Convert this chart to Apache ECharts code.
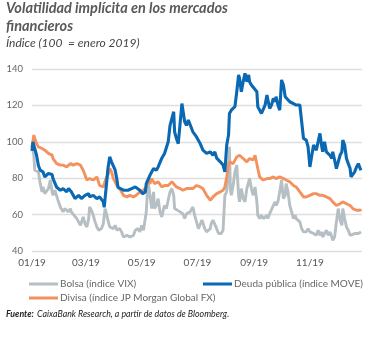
<!DOCTYPE html>
<html><head><meta charset="utf-8">
<script src="https://cdn.jsdelivr.net/npm/echarts@6/dist/echarts.min.js"></script>
<style>html,body{margin:0;padding:0;background:#fff}#c{width:379px;height:338px}</style>
</head><body><div id="c"></div>
<script>
// x values = days since 1 January 2019
const tickDays = [0, 59, 120, 181, 243, 304];
const tickLabels = ['01/19', '03/19', '05/19', '07/19', '09/19', '11/19'];
const yTicks = [40, 60, 80, 100, 120, 140];

const seriesNames = ['Bolsa (índice VIX)', 'Deuda pública (índice MOVE)', 'Divisa (índice JP Morgan Global FX)'];

const vixDays = [0,2,3,5,7,9,11,12,14,16,18,20,22,23,25,27,29,31,32,34,36,38,40,42,43,45,49,51,53,54,56,58,60,62,63,65,67,69,71,73,74,76,78,80,82,83,85,89,91,93,96,98,100,102,104,107,111,113,114,116,118,120,122,124,125,127,129,131,133,134,136,138,140,142,144,145,147,149,151,153,155,156,158,162,165,167,169,173,176,178,182,184,186,187,189,191,193,195,196,198,200,202,204,207,209,211,213,215,216,217,218,220,222,224,226,227,229,231,233,235,237,238,240,242,244,246,247,249,251,253,255,257,258,260,262,264,266,267,269,271,273,275,277,278,280,282,284,286,288,289,293,295,297,300,302,304,306,308,311,313,315,317,318,320,322,324,326,328,329,331,333,335,337,339,340,342,344,346,348,349,353,357,360];
const vixValues = [98,92.6,84.4,85.3,83.5,77,72.5,75.2,71.5,70.6,74.3,79,72.5,70.6,73.4,74.3,67,64.2,63.3,61.5,63.3,62.4,61.5,63.3,61.5,62.4,57.8,56,54.1,55,58.7,55,53.2,57.8,64.2,62.4,59.6,56,53.2,51.4,51.4,52.3,55,63.3,59.6,56.9,53.2,52.3,54.1,51.4,52.3,50.5,47.7,47.7,48.6,47.7,48.6,51.4,50.5,52.3,50.5,54.1,51.4,50.5,61.5,79,70.6,63.3,72.5,63.3,65,68.8,61.5,58.7,63.3,65,63.3,68,72.5,74.3,70.6,63.3,63.3,61.5,60.5,57.8,60.5,61.5,64.2,59.6,52.3,53.2,57,56,52.3,50.5,51.4,52.3,55,57,56,52.3,49.6,49.6,51.4,70.6,72.5,87.2,97.3,74.3,70.6,76,83.5,87.2,70.6,67,74.3,68.8,67,74.3,78,79.8,74.3,70.6,75.2,67,59.6,57.8,59.6,57.8,58.7,59.6,57.8,60.5,61.5,65,67,65,67,72.5,79,68.8,70.6,77,72.5,65,61.5,57.8,59.6,57.8,56,52.3,50.5,50.5,52.3,50.5,51.4,49.6,48.6,51.4,48.6,50.5,47.7,48.6,51.4,48.6,50.5,47.7,45.9,47.7,56,63.3,57,54.1,63.3,57.8,53.2,51.4,48.6,49.6,49.6,49.6,50.5];

const moveDays = [0,1,3,5,7,9,12,14,18,22,23,27,31,34,38,40,43,47,51,54,58,62,63,67,71,74,78,79,81,83,85,87,89,91,93,94,96,100,102,105,109,113,114,118,121,124,125,129,131,133,136,138,142,144,145,149,151,153,155,156,158,160,162,164,165,167,169,171,173,176,180,184,187,191,195,198,200,202,206,209,211,213,215,216,218,220,222,224,226,227,229,231,233,235,237,238,240,242,246,247,249,251,255,257,258,260,262,264,266,267,269,271,273,275,277,278,282,286,289,291,293,295,297,300,302,304,306,308,309,311,313,315,317,318,320,322,324,326,328,329,331,333,335,337,339,340,342,344,346,348,349,351,353,355,357,359,360];
const moveValues = [95,100,99,92.6,87,84.4,83.5,80.7,82.6,82,79.8,75,73.4,74.3,72.5,74.3,72.5,68.8,70.6,68.8,70.6,71.5,69.7,70.6,68.8,69.7,67,64,74.3,85,91.7,89,88,84.4,79,75,74.3,73.4,72.5,73.4,74.3,75.2,74.3,73.4,71.5,72.5,77,81.6,80.7,85.3,84.4,86.2,91,91.7,93.6,100,109,109,116.5,105.5,101.8,99,100,121,121,111,109,112,112,105.5,102.7,99,95.4,93.6,94.5,92.6,94.5,91,89,87.2,83.5,98.2,103.7,115.6,117.4,118.3,119.3,127.5,136.7,134.9,127.5,133,137.6,133,136.7,133,131.2,132,127.5,119.3,120.2,115.6,120.2,125.7,125.7,118.3,120.2,123.9,122,124.8,120.2,117.4,134,131.2,124.8,124.8,122,121,120.2,119.3,120.2,111,101.8,100.9,97.3,86.2,87.2,98.2,99,95.4,94.5,104.6,97.3,94.5,100,94.5,95.4,92.6,90.8,94.5,90,85.3,85.3,92.6,94.5,100.9,98.2,90.8,88,85.3,80.7,81.6,83.5,86.2,88,85.3,84.4];

const fxDays = [0,2,3,5,7,11,14,18,22,23,27,31,34,38,42,45,49,53,56,60,63,67,71,74,78,81,83,85,87,89,93,96,100,104,107,111,114,118,122,125,127,129,131,134,138,142,145,149,153,155,158,162,165,169,173,176,180,184,187,191,195,198,202,206,209,211,213,215,216,220,224,227,231,235,238,242,244,246,247,249,253,257,260,264,267,271,275,278,282,286,289,293,297,300,304,308,311,315,318,322,326,329,333,337,340,344,348,351,355,359,360];
const fxValues = [97,103.7,101.8,99,97.2,96.3,95.4,93.6,92.7,90.8,88,87.2,87.2,86.2,88,87.2,88,87.2,84.4,79,79.8,79,80.7,76,75.2,79.8,81.6,85.3,83.5,79.8,76,74.3,70.6,69.7,70.6,69.7,70.6,72.5,73.4,75.2,79,77,79.8,77,78,75.2,76,76,78,78,75.2,74.3,73.4,74.3,74.3,74.3,76,75.2,74.3,70.6,67.9,69.7,71.5,72.5,73.4,75.2,80.7,87.2,89,88,91.7,92.6,90.8,89,90.8,90,92.6,91.7,85.3,80.7,79,79.8,79.8,80.7,79.8,80.7,79.8,79,78,76,75.2,72.5,69.7,69.7,70.6,71.5,71.5,70.6,70.6,69.7,68.8,67,65,66,67,66,65,63.3,62.4,62.4,63];

const colors = ['#b6bfc3', '#0b69b4', '#f3925f'];

function pairs(days, vals) { return days.map((d, i) => [d, vals[i]]); }

const FONT = 'Lato, "Open Sans", sans-serif';
const chart = echarts.init(document.getElementById('c'), null, {renderer: 'canvas'});
chart.setOption({
  animation: false,
  backgroundColor: '#ffffff',
  grid: {left: 32, right: 17, top: 69, bottom: 87, containLabel: false},
  xAxis: {
    type: 'value', min: 0, max: 361,
    axisLine: {show: false}, axisTick: {show: false}, splitLine: {show: false},
    axisLabel: {
      customValues: tickDays, margin: 7, color: '#555', fontSize: 10, fontFamily: FONT,
      formatter: v => tickLabels[tickDays.indexOf(v)] || ''
    }
  },
  yAxis: {
    type: 'value', min: yTicks[0], max: yTicks[yTicks.length - 1], interval: 20,
    axisLine: {show: false}, axisTick: {show: false},
    splitLine: {lineStyle: {color: '#dedede', width: 1.3}},
    axisLabel: {margin: 9, color: '#666', fontSize: 9.5, fontFamily: FONT}
  },
  legend: [
    {data: [seriesNames[0], seriesNames[2]], orient: 'vertical', left: 29, top: 279, padding: 0,
     itemWidth: 29, itemHeight: 3, itemGap: 4, icon: 'rect',
     textStyle: {fontSize: 10, color: '#666', fontFamily: FONT, padding: [0, 0, 0, -3]}},
    {data: [seriesNames[1]], orient: 'vertical', left: 203, top: 279, padding: 0,
     itemWidth: 29, itemHeight: 3, icon: 'rect',
     textStyle: {fontSize: 10, color: '#666', fontFamily: FONT, padding: [0, 0, 0, -3]}}
  ],
  series: [
    {name: seriesNames[0], type: 'line', data: pairs(vixDays, vixValues), showSymbol: false,
     lineStyle: {color: colors[0], width: 2.9}, itemStyle: {color: colors[0]}, z: 2},
    {name: seriesNames[2], type: 'line', data: pairs(fxDays, fxValues), showSymbol: false,
     lineStyle: {color: colors[2], width: 2.9}, itemStyle: {color: colors[2]}, z: 3},
    {name: seriesNames[1], type: 'line', data: pairs(moveDays, moveValues), showSymbol: false,
     lineStyle: {color: colors[1], width: 3.1}, itemStyle: {color: colors[1]}, z: 4}
  ],
  graphic: [
    {type: 'text', left: 6, top: 1, style: {text: 'Volatilidad implícita en los mercados', font: 'italic bold 14.5px ' + FONT, fill: '#58595b'}},
    {type: 'text', left: 6, top: 19, style: {text: 'financieros', font: 'italic bold 14.5px ' + FONT, fill: '#58595b'}},
    {type: 'text', left: 6, top: 37, style: {text: 'Índice (100  = enero 2019)', font: 'italic 12px ' + FONT, fill: '#444'}},
    {type: 'text', left: 6, top: 308, style: {
      text: '{b|Fuente:} {i|CaixaBank Research, a partir de datos de Bloomberg.}',
      rich: {b: {font: 'italic bold 8.8px ' + FONT, fill: '#222'}, i: {font: 'italic 8.8px ' + FONT, fill: '#222'}}
    }}
  ]
});
</script></body></html>
